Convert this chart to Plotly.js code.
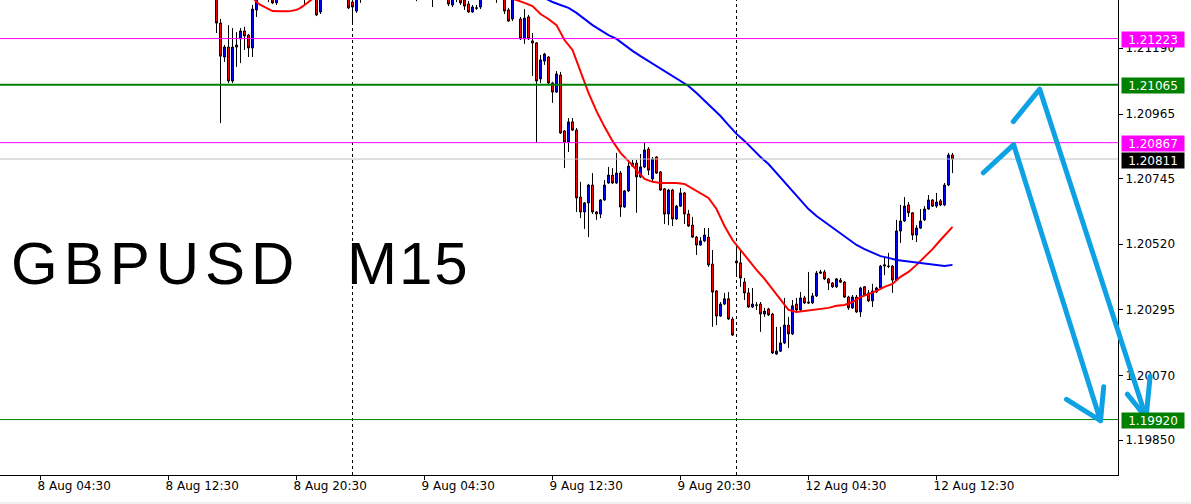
<!DOCTYPE html>
<html><head><meta charset="utf-8">
<script src="https://cdn.plot.ly/plotly-3.0.1.min.js"></script>
<style>
html,body{margin:0;padding:0;background:#fff;}
#chart{width:1191px;height:504px;}
</style></head><body><div id="chart"></div>
<script>
// ---- data (GBPUSD M15) ----
const firstBar = 54; // bar index of the first candle (bar 10 = 8 Aug 04:30)
const open = [
1.21382,1.21276,1.21160,1.21194,1.21078,1.21201,1.21222,1.21249,1.21235,1.21191,
1.21321,null,null,1.21396,1.21382,1.21345,null,null,null,null,
null,null,1.21372,null,null,1.21389,1.21314,null,null,null,
null,null,null,1.21389,1.21348,1.21317,1.21372,null,null,null,
null,null,null,null,null,null,null,null,null,null,
1.21372,null,null,null,1.21369,null,null,null,1.21382,1.21338,
1.21365,1.21375,1.21355,1.21341,1.21314,1.21328,1.21331,null,null,null,
1.21372,null,1.21372,1.21321,1.21290,null,1.21290,1.21222,1.21297,1.21215,
1.21208,1.21085,1.21146,1.21160,1.21071,1.21040,1.21098,1.20907,1.20869,1.20938,
1.20910,1.20681,1.20630,1.20661,1.20722,1.20630,1.20623,1.20671,1.20729,1.20756,
1.20729,1.20763,1.20647,1.20702,1.20787,1.20797,1.20750,1.20784,1.20845,1.20743,
1.20818,1.20767,1.20709,1.20623,1.20705,1.20606,1.20650,1.20695,1.20623,1.20585,
1.20544,1.20517,1.20531,1.20544,1.20452,1.20360,1.20274,1.20315,1.20333,1.20264,
1.20462,1.20456,1.20390,1.20353,1.20305,1.20312,1.20315,1.20281,1.20298,1.20281,
1.20144,1.20154,1.20182,1.20243,1.20213,1.20315,1.20295,1.20336,1.20322,1.20319,
1.20343,1.20425,1.20425,1.20401,1.20387,1.20374,1.20397,1.20390,1.20339,1.20302,
1.20339,1.20288,1.20374,1.20353,1.20326,1.20356,1.20370,1.20445,1.20445,1.20445,
1.20397,1.20565,1.20599,1.20654,1.20627,1.20551,1.20575,1.20603,1.20640,1.20671,
1.20650,1.20668,1.20654,1.20722,1.20825];
const high = [
1.21389,1.21290,1.21201,1.21269,1.21259,1.21245,1.21259,1.21263,1.21239,1.21338,
1.21389,null,null,1.21406,1.21396,1.21389,null,null,null,null,
null,null,1.21389,null,null,1.21396,1.21389,null,null,null,
null,null,null,1.21396,1.21372,1.21389,1.21389,null,null,null,
null,null,null,null,null,null,null,null,null,null,
1.21389,null,null,null,1.21389,null,null,null,1.21389,1.21389,
1.21382,1.21389,1.21372,1.21351,1.21338,1.21338,1.21389,null,null,null,
1.21389,null,1.21389,1.21328,1.21382,null,1.21297,1.21324,1.21304,1.21242,
1.21211,1.21167,1.21174,1.21163,1.21075,1.21112,1.21109,1.20910,1.20951,1.20951,
1.20917,1.20733,1.20664,1.20726,1.20763,1.20633,1.20674,1.20739,1.20784,1.20780,
1.20832,1.20770,1.20705,1.20804,1.20808,1.20808,1.20828,1.20866,1.20852,1.20818,
1.20821,1.20770,1.20712,1.20709,1.20709,1.20654,1.20712,1.20698,1.20637,1.20613,
1.20548,1.20544,1.20575,1.20575,1.20500,1.20363,1.20322,1.20353,1.20356,1.20271,
1.20510,1.20500,1.20404,1.20370,1.20370,1.20322,1.20322,1.20302,1.20302,1.20285,
1.20237,1.20237,1.20336,1.20271,1.20329,1.20336,1.20356,1.20343,1.20425,1.20353,
1.20428,1.20432,1.20432,1.20404,1.20390,1.20404,1.20404,1.20394,1.20343,1.20346,
1.20346,1.20374,1.20377,1.20363,1.20384,1.20374,1.20449,1.20473,1.20490,1.20449,
1.20603,1.20654,1.20681,1.20664,1.20630,1.20585,1.20640,1.20650,1.20688,1.20674,
1.20695,1.20674,1.20729,1.20832,1.20832];
const low = [
1.21242,1.20934,1.21143,1.21071,1.21071,1.21126,1.21139,1.21184,1.21160,1.21160,
1.21297,null,null,1.21348,1.21341,1.21338,null,null,null,null,
null,null,1.21338,null,null,1.21300,1.21307,null,null,null,
null,null,null,1.21324,1.21276,1.21311,1.21345,null,null,null,
null,null,null,null,null,null,null,null,null,null,
1.21351,null,null,null,1.21331,null,null,null,1.21334,1.21331,
1.21348,1.21338,1.21321,1.21311,1.21311,1.21321,1.21324,null,null,null,
1.21345,null,1.21307,1.21280,1.21283,null,1.21218,1.21205,1.21218,1.21095,
1.20866,1.21071,1.21133,1.21068,1.21003,1.21037,1.20897,1.20780,1.20835,1.20907,
1.20630,1.20609,1.20572,1.20544,1.20623,1.20603,1.20609,1.20668,1.20726,1.20726,
1.20726,1.20613,1.20644,1.20698,1.20784,1.20627,1.20746,1.20780,1.20756,1.20736,
1.20760,1.20702,1.20589,1.20585,1.20582,1.20603,1.20647,1.20589,1.20579,1.20541,
1.20483,1.20514,1.20527,1.20442,1.20237,1.20243,1.20271,1.20312,1.20261,1.20206,
1.20414,1.20374,1.20329,1.20302,1.20302,1.20295,1.20220,1.20271,1.20274,1.20144,
1.20141,1.20151,1.20178,1.20165,1.20209,1.20291,1.20291,1.20315,1.20315,1.20315,
1.20339,1.20418,1.20397,1.20363,1.20370,1.20370,1.20387,1.20336,1.20295,1.20298,
1.20285,1.20271,1.20343,1.20322,1.20305,1.20353,1.20367,1.20414,1.20438,1.20353,
1.20394,1.20524,1.20596,1.20613,1.20534,1.20527,1.20572,1.20599,1.20637,1.20647,
1.20644,1.20650,1.20650,1.20719,1.20763];
const close = [
1.21276,1.21163,1.21194,1.21078,1.21194,1.21194,1.21249,1.21232,1.21191,1.21324,
1.21365,null,null,1.21382,1.21345,1.21375,null,null,null,null,
null,null,1.21382,null,null,1.21304,1.21382,null,null,null,
null,null,null,1.21328,1.21331,1.21375,1.21382,null,null,null,
null,null,null,null,null,null,null,null,null,null,
1.21365,null,null,null,1.21375,null,null,null,1.21341,1.21372,
1.21369,1.21345,1.21334,1.21314,1.21331,1.21327,1.21365,null,null,null,
1.21369,null,1.21317,1.21283,1.21365,null,1.21222,1.21293,1.21222,1.21208,
1.21078,1.21150,1.21170,1.21071,1.21040,1.21102,1.20900,1.20869,1.20938,1.20910,
1.20678,1.20630,1.20661,1.20722,1.20630,1.20623,1.20671,1.20722,1.20756,1.20729,
1.20763,1.20647,1.20702,1.20787,1.20797,1.20750,1.20784,1.20842,1.20773,1.20811,
1.20763,1.20705,1.20623,1.20705,1.20606,1.20650,1.20695,1.20623,1.20582,1.20544,
1.20517,1.20531,1.20551,1.20449,1.20356,1.20274,1.20315,1.20333,1.20264,1.20209,
1.20456,1.20404,1.20353,1.20305,1.20315,1.20311,1.20281,1.20291,1.20278,1.20148,
1.20154,1.20182,1.20243,1.20213,1.20309,1.20295,1.20336,1.20319,1.20319,1.20343,
1.20421,1.20421,1.20401,1.20387,1.20374,1.20401,1.20390,1.20339,1.20302,1.20339,
1.20288,1.20370,1.20346,1.20326,1.20360,1.20370,1.20445,1.20449,1.20444,1.20397,
1.20565,1.20599,1.20650,1.20627,1.20551,1.20575,1.20599,1.20640,1.20671,1.20650,
1.20664,1.20654,1.20722,1.20825,1.20811];

// moving averages
const redMaBars = [63,64,65,66,67,68,70,72,74,75,76,77,78,79,100,
127,129,131,133,135,137,139,141,143,145,147,149,151,153,155,157,159,161,163,165,167,169,171,173,175,177,179,181,183,185,187,189,191,193,195,197,199,201,203,205,207,209,211,213,215,217,219,221,223,225,227,229,231,233,235,237,238];
const redMaValues = [1.21365,1.21348,1.21338,1.21331,1.21324,1.21317,1.21316,1.21316,1.21321,1.21328,1.21338,1.21348,1.21358,1.21369,null,
1.21362,1.21355,1.21345,1.21334,1.21307,1.21290,1.21269,1.21218,1.21184,1.21109,1.21037,1.20975,1.20921,1.20873,1.20832,1.20804,1.20773,1.20743,1.20733,1.20729,1.20729,1.20729,1.20726,1.20709,1.20695,1.20678,1.20640,1.20582,1.20534,1.20500,1.20462,1.20432,1.20401,1.20367,1.20329,1.20295,1.20288,1.20291,1.20295,1.20298,1.20302,1.20309,1.20312,1.20322,1.20339,1.20349,1.20360,1.20374,1.20384,1.20408,1.20425,1.20449,1.20476,1.20503,1.20534,1.20565,1.20579];
const blueMaBars = [136,138,140,142,144,146,148,150,152,154,156,158,160,162,164,166,168,170,172,174,176,178,180,182,184,186,188,190,192,194,196,198,200,202,204,206,208,210,212,214,216,218,220,222,224,226,228,230,232,234,236,238];
const blueMaValues = [1.21362,1.21348,1.21338,1.21328,1.21311,1.21290,1.21269,1.21252,1.21235,1.21222,1.21201,1.21181,1.21163,1.21146,1.21129,1.21115,1.21098,1.21081,1.21061,1.21037,1.21010,1.20982,1.20958,1.20927,1.20897,1.20873,1.20845,1.20818,1.20794,1.20763,1.20733,1.20702,1.20671,1.20640,1.20616,1.20596,1.20575,1.20555,1.20534,1.20517,1.20503,1.20490,1.20479,1.20473,1.20466,1.20462,1.20459,1.20455,1.20452,1.20449,1.20445,1.20449];

// axes
const xTickBars = [10,42,74,106,138,170,202,234];
const xTickLabels = ['8 Aug 04:30','8 Aug 12:30','8 Aug 20:30','9 Aug 04:30','9 Aug 12:30','9 Aug 20:30','12 Aug 04:30','12 Aug 12:30'];
const daySeparatorBars = [88,184];
const yTickVals = [1.21190,1.20965,1.20745,1.20520,1.20295,1.20070,1.19850];

// horizontal levels
const levels = [1.21223,1.21065,1.20867,1.20811,1.19920];
const levelLineColors = ['#FF00FF','#008000','#FF00FF','#C0C0C0','#008000'];
const levelLineWidths = [1,2,1,1,1];
const levelLabelBg = ['#FF00FF','#008000','#FF00FF','#000000','#008000'];

// hand-drawn forecast arrows: [bar, price] points
const arrow1Path = [[245.7,1.20764],[253.3,1.20860],[275.0,1.19916]];
const arrow1Head = [[266.5,1.19989],[275.0,1.19916],[275.8,1.20032]];
const arrow2Path = [[253.2,1.20939],[259.8,1.21050],[286.4,1.19927]];
const arrow2Head = [[281.7,1.20007],[286.4,1.19927],[287.4,1.20067]];

// ---- chart ----
const X_RANGE = [-0.125, 279.375];
const Y_RANGE = [1.197304, 1.213549];
const bars = open.map((_, k) => firstBar + k);
const ARROW_COLOR = '#0EA1E4';

const toPaper = ([b, p]) => [(b - X_RANGE[0]) / (X_RANGE[1] - X_RANGE[0]), (p - Y_RANGE[0]) / (Y_RANGE[1] - Y_RANGE[0])];
const pathOf = pts => pts.map((pt, k) => { const [x, y] = toPaper(pt); return (k ? 'L' : 'M') + x.toFixed(5) + ',' + y.toFixed(5); }).join(' ');

const data = [
  {type:'candlestick', x:bars, open, high, low, close,
   increasing:{line:{color:'#000000', width:1}, fillcolor:'#0000FF'},
   decreasing:{line:{color:'#000000', width:1}, fillcolor:'#FF0000'},
   whiskerwidth:0, hoverinfo:'skip', showlegend:false},
  {type:'scatter', mode:'lines', x:redMaBars, y:redMaValues, line:{color:'#FF0000', width:2}, connectgaps:false, hoverinfo:'skip', showlegend:false},
  {type:'scatter', mode:'lines', x:blueMaBars, y:blueMaValues, line:{color:'#0000FF', width:2}, hoverinfo:'skip', showlegend:false}
];

const shapes = [];
daySeparatorBars.forEach(b => shapes.push({type:'line', xref:'x', yref:'paper', x0:b, x1:b, y0:0, y1:1, layer:'below', line:{color:'#000000', width:1, dash:'dot'}}));
levels.forEach((v, k) => shapes.push({type:'line', xref:'paper', yref:'y', x0:0, x1:1, y0:v, y1:v, layer:'above', line:{color:levelLineColors[k], width:levelLineWidths[k]}}));
[arrow1Path, arrow1Head, arrow2Path, arrow2Head].forEach(pts => shapes.push({type:'path', xref:'paper', yref:'paper', path:pathOf(pts), layer:'above', line:{color:ARROW_COLOR, width:5}}));
// window status strip at the very bottom
shapes.push({type:'rect', xref:'paper', yref:'paper', x0:-0.01, x1:1.07, y0:-29/475, y1:-27/475, fillcolor:'#F0F0F0', line:{width:0}, layer:'below'});

const annotations = [];
levels.forEach((v, k) => annotations.push({xref:'paper', x:1, xanchor:'left', xshift:3, yref:'y', y:v, yanchor:'middle', yshift:-1,
  text:v.toFixed(5), showarrow:false, font:{family:'DejaVu Sans', size:12, color:'#FFFFFF'}, bgcolor:levelLabelBg[k],
  width:60, height:13, borderpad:1, align:'center'}));
annotations.push({xref:'paper', yref:'paper', x:9/1118, y:1-263/475, xanchor:'left', yanchor:'middle', text:'GBPUSD', showarrow:false,
  font:{family:'Liberation Sans, Arial, sans-serif', size:60, color:'#000000'}});
annotations.push({xref:'paper', yref:'paper', x:345/1118, y:1-263/475, xanchor:'left', yanchor:'middle', text:'M15', showarrow:false,
  font:{family:'Liberation Sans, Arial, sans-serif', size:60, color:'#000000'}});

const tickFont = {family:'DejaVu Sans', size:12, color:'#000000'};
const layout = {
  width:1191, height:504,
  margin:{l:0, r:73, t:0, b:29, pad:0},
  paper_bgcolor:'#FFFFFF', plot_bgcolor:'#FFFFFF',
  showlegend:false,
  boxgap:0.5, boxgroupgap:0,
  xaxis:{range:X_RANGE, showgrid:false, zeroline:false, showline:true, linecolor:'#000000', linewidth:1,
    ticks:'outside', ticklen:4, tickcolor:'#000000', tickvals:xTickBars, ticktext:xTickLabels,
    ticklabelposition:'outside right', ticklabelshift:-4, tickfont:tickFont, rangeslider:{visible:false}, fixedrange:true},
  yaxis:{side:'right', range:Y_RANGE, showgrid:false, zeroline:false, showline:true, linecolor:'#000000', linewidth:1,
    ticks:'outside', ticklen:4, tickcolor:'#000000', tickvals:yTickVals, ticktext:yTickVals.map(v => v.toFixed(5)),
    tickfont:tickFont, fixedrange:true},
  shapes, annotations
};

const letterSpacing = {'GBPUSD':'6px', 'M15':'2px'};
Plotly.newPlot('chart', data, layout, {staticPlot:true, displayModeBar:false}).then(gd => {
  gd.querySelectorAll('.annotation-text').forEach(t => {
    const ls = letterSpacing[t.textContent];
    if (ls) {
      const b0 = t.getBBox();
      t.style.letterSpacing = ls;
      const b1 = t.getBBox();
      t.setAttribute('x', (parseFloat(t.getAttribute('x')) || 0) + (b0.x - b1.x));
    }
  });
  gd.querySelectorAll('.shapelayer path').forEach(p => {
    if ((p.style.stroke || '').replace(/\s/g, '') === 'rgb(14,161,228)') { p.style.strokeLinecap = 'round'; p.style.strokeLinejoin = 'round'; }
  });
});
</script></body></html>
